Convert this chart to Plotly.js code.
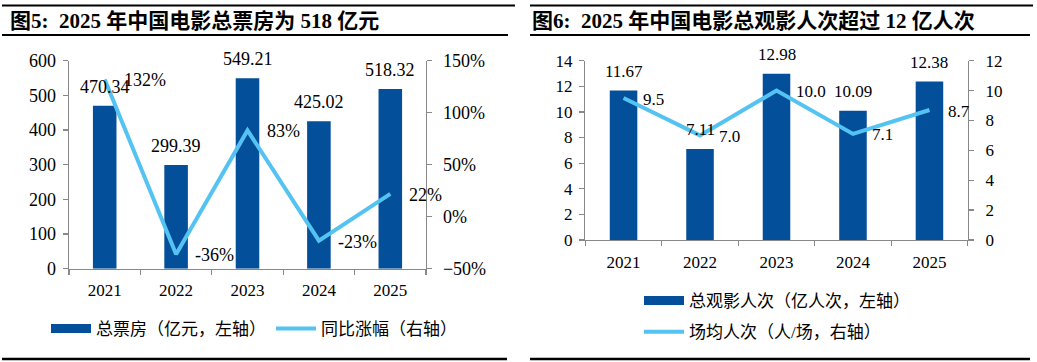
<!DOCTYPE html>
<html>
<head>
<meta charset="utf-8">
<script src="https://cdn.plot.ly/plotly-3.0.1.min.js"></script>
<style>html,body{margin:0;padding:0;background:#fff;}#chart{width:1037px;height:362px;}</style>
</head>
<body>
<div id="chart"></div>
<script>
// ---- data ----
const years = ['2021', '2022', '2023', '2024', '2025'];
const boxOffice = [470.34, 299.39, 549.21, 425.02, 518.32];      // 亿元
const boxOfficeYoY = [132, -36, 83, -23, 22];                      // %
const admissions = [11.67, 7.11, 12.98, 10.09, 12.38];             // 亿人次
const perShow = [9.5, 7.0, 10.0, 7.1, 8.7];                        // 人/场

const leftTitle = '图5:  2025 年中国电影总票房为 518 亿元';
const rightTitle = '图6:  2025 年中国电影总观影人次超过 12 亿人次';
const legendNames = ['总票房（亿元，左轴）', '同比涨幅（右轴）', '总观影人次（亿人次，左轴）', '场均人次（人/场，右轴）'];

// ---- style ----
const W = 1037, H = 362;
const DARK = '#034f99', LIGHT = '#55c3f1', AX = '#888888';
const SERIF = '"Liberation Serif", "Times New Roman", serif';
const CJK = '"Liberation Serif", "Noto Sans CJK SC", serif';
const px = v => v / W, py = v => (H - v) / H;

const L = {x0: 69, x1: 426, top: 60.7, bottom: 268.7};
const R = {x0: 585.3, x1: 967.7, top: 60.7, bottom: 240};

function yax(extra) {
  return Object.assign({
    showline: true, linecolor: AX, linewidth: 1.3, showgrid: false, zeroline: false,
    ticks: 'outside', ticklen: 5, tickcolor: AX, tickwidth: 1.3,
    tickfont: {family: SERIF, size: 17, color: '#000'}, fixedrange: true
  }, extra);
}
function xax(extra) {
  return Object.assign({
    type: 'category', showline: true, linecolor: AX, linewidth: 1.3, showgrid: false, zeroline: false,
    ticks: 'outside', ticklen: 5, tickcolor: AX, tickwidth: 1.3, tickson: 'boundaries',
    tickfont: {family: SERIF, size: 17, color: '#000'}, fixedrange: true
  }, extra);
}
const f18 = {family: SERIF, size: 18, color: '#000'};

const traces = [
  {type: 'bar', x: years, y: boxOffice, xaxis: 'x', yaxis: 'y', marker: {color: DARK}, width: 0.33, showlegend: false, hoverinfo: 'skip'},
  {type: 'scatter', mode: 'lines', x: years, y: boxOfficeYoY, xaxis: 'x', yaxis: 'y2', line: {color: LIGHT, width: 4}, showlegend: false, hoverinfo: 'skip'},
  {type: 'bar', x: years, y: admissions, xaxis: 'x2', yaxis: 'y3', marker: {color: DARK}, width: 0.36, showlegend: false, hoverinfo: 'skip'},
  {type: 'scatter', mode: 'lines', x: years, y: perShow, xaxis: 'x2', yaxis: 'y4', line: {color: LIGHT, width: 4}, showlegend: false, hoverinfo: 'skip'},
  // legend entries
  {type: 'scatter', mode: 'lines', x: [null], y: [null], xaxis: 'x', yaxis: 'y', name: legendNames[0], line: {color: DARK, width: 9}, legend: 'legend'},
  {type: 'scatter', mode: 'lines', x: [null], y: [null], xaxis: 'x', yaxis: 'y2', name: legendNames[1], line: {color: LIGHT, width: 4}, legend: 'legend'},
  {type: 'scatter', mode: 'lines', x: [null], y: [null], xaxis: 'x2', yaxis: 'y3', name: legendNames[2], line: {color: DARK, width: 9}, legend: 'legend2', legendgroup: 'a'},
  {type: 'scatter', mode: 'lines', x: [null], y: [null], xaxis: 'x2', yaxis: 'y4', name: legendNames[3], line: {color: LIGHT, width: 4}, legend: 'legend2', legendgroup: 'b'}
];

const annotations = [];
const leftRange = [0, 600], rightRange = [0, 14];
// value labels (x given as category index)
years.forEach((yr, i) => {
  const toTop = (leftRange[1] - boxOffice[i]) / (leftRange[1] - leftRange[0]) * (L.bottom - L.top);
  annotations.push({xref: 'x', yref: 'y', x: i, y: boxOffice[i], text: boxOffice[i].toFixed(2), showarrow: false,
    yanchor: 'middle', yshift: Math.min(19, toTop + 9), font: f18});
  annotations.push({xref: 'x', yref: 'y2', x: i, y: boxOfficeYoY[i], text: boxOfficeYoY[i] + '%', showarrow: false,
    xanchor: 'left', yanchor: 'middle', xshift: 17, yshift: -1, font: f18});
  annotations.push({xref: 'x2', yref: 'y3', x: i, y: admissions[i], text: admissions[i].toFixed(2), showarrow: false,
    yanchor: 'middle', yshift: 19, font: {family: SERIF, size: 17, color: '#000'}});
  annotations.push({xref: 'x2', yref: 'y4', x: i, y: perShow[i], text: perShow[i].toFixed(1), showarrow: false,
    xanchor: 'left', yanchor: 'middle', xshift: 17, yshift: -1, font: {family: SERIF, size: 17, color: '#000'}});
});
// titles
annotations.push({xref: 'paper', yref: 'paper', x: px(8), y: py(21), xanchor: 'left', yanchor: 'middle', showarrow: false,
  text: '<b>' + leftTitle + '</b>', font: {family: CJK, size: 21, color: '#000'}});
annotations.push({xref: 'paper', yref: 'paper', x: px(530), y: py(21), xanchor: 'left', yanchor: 'middle', showarrow: false,
  text: '<b>' + rightTitle + '</b>', font: {family: CJK, size: 21, color: '#000'}});

const hline = (x0, x1, y, w) => ({type: 'line', xref: 'paper', yref: 'paper', x0: px(x0), x1: px(x1), y0: py(y), y1: py(y), line: {color: '#000', width: w}});
const shapes = [
  hline(2, 515, 5.5, 2), hline(530, 1033, 5.5, 2),
  hline(2, 508, 35, 2), hline(530, 1030, 35, 2),
  hline(2, 507, 359, 2.5), hline(530, 1030, 359, 2.5)
];

const layout = {
  width: W, height: H, margin: {l: 0, r: 0, t: 0, b: 0},
  paper_bgcolor: '#fff', plot_bgcolor: 'rgba(0,0,0,0)',
  xaxis: xax({domain: [px(L.x0), px(L.x1)], anchor: 'y', ticklabelstandoff: 6, range: [-0.5, 4.5]}),
  yaxis: yax({domain: [py(L.bottom), py(L.top)], anchor: 'x', range: leftRange, dtick: 100, ticklabelstandoff: 3, tickfont: f18}),
  yaxis2: yax({overlaying: 'y', anchor: 'x', side: 'right', range: [-50, 150], dtick: 50, ticksuffix: '%', ticklabelstandoff: 7, tickfont: f18}),
  xaxis2: xax({domain: [px(R.x0), px(R.x1)], anchor: 'y3', ticklabelstandoff: 6, range: [-0.5, 4.5]}),
  yaxis3: yax({domain: [py(R.bottom), py(R.top)], anchor: 'x2', range: rightRange, dtick: 2, ticklabelstandoff: 3}),
  yaxis4: yax({overlaying: 'y3', anchor: 'x2', side: 'right', range: [0, 12], dtick: 2, ticklabelstandoff: 8}),
  legend: {orientation: 'h', x: px(46), y: py(329), xanchor: 'left', yanchor: 'middle', itemwidth: 40, entrywidthmode: 'pixels',
    font: {family: CJK, size: 17, color: '#000'}, bgcolor: 'rgba(0,0,0,0)', itemclick: false, itemdoubleclick: false},
  legend2: {orientation: 'v', x: px(639), y: py(283), xanchor: 'left', yanchor: 'top', itemwidth: 40, tracegroupgap: 6,
    traceorder: 'grouped', font: {family: CJK, size: 17, color: '#000'}, bgcolor: 'rgba(0,0,0,0)', itemclick: false, itemdoubleclick: false},
  annotations: annotations,
  shapes: shapes
};

Plotly.newPlot('chart', traces, layout, {displayModeBar: false, staticPlot: true});
</script>
</body>
</html>
